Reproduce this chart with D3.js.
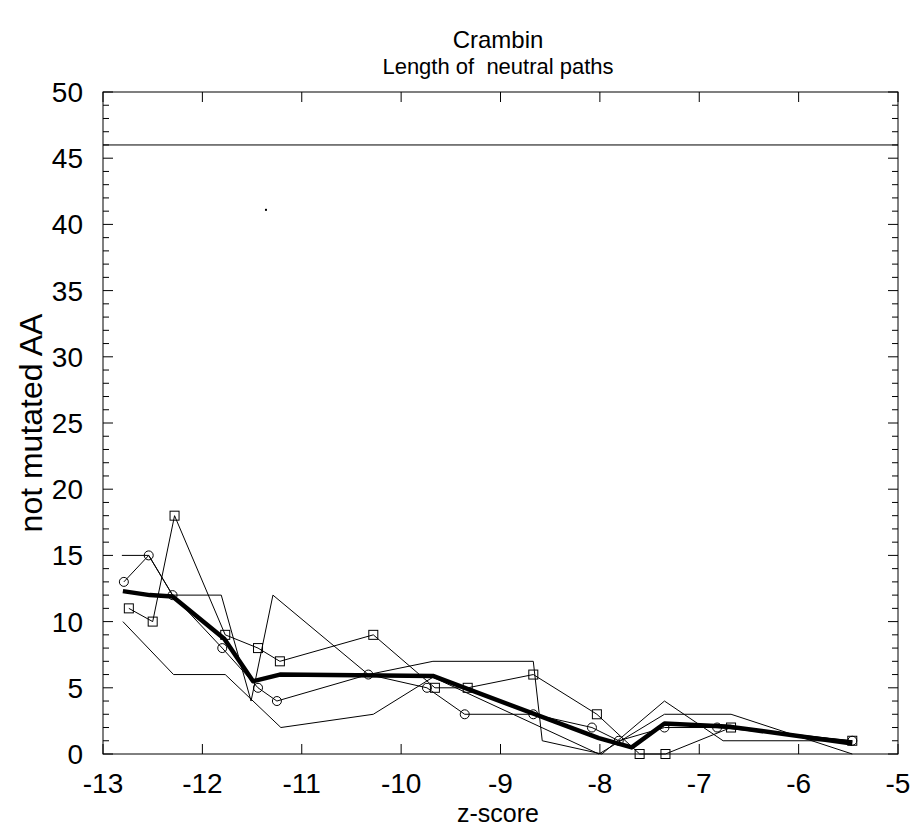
<!DOCTYPE html>
<html>
<head>
<meta charset="utf-8">
<script src="https://cdn.jsdelivr.net/npm/d3@7"></script>
<style>
  body { margin: 0; background: #fff; }
  text { font-family: "Liberation Sans", Arial, Helvetica, sans-serif; fill: #000; white-space: pre; }
</style>
</head>
<body>
<div id="chart"></div>
<script>
// values
var xTicks = [-13, -12, -11, -10, -9, -8, -7, -6, -5];
var yTicks = [0, 5, 10, 15, 20, 25, 30, 35, 40, 45, 50];
var yMinorTicks = d3.range(0, 51, 1);

var refLevel = 46;   // horizontal reference line

// run with circles
var circleX = [-12.79, -12.54, -12.30, -11.80, -11.44, -11.25, -10.33, -9.74, -9.36, -8.67, -8.08, -7.81, -7.35, -6.82, -5.46];
var circleY = [13, 15, 12, 8, 5, 4, 6, 5, 3, 3, 2, 1, 2, 2, 1];

// run with squares
var squareX = [-12.74, -12.50, -12.28, -11.77, -11.44, -11.22, -10.28, -9.66, -9.33, -8.67, -8.03, -7.60, -7.34, -6.68, -5.46];
var squareY = [11, 10, 18, 9, 8, 7, 9, 5, 5, 6, 3, 0, 0, 2, 1];

// plain runs
var plainAX = [-12.81, -12.54, -12.30, -11.81, -11.51, -11.29, -10.33, -9.68, -8.67, -8.58, -7.98, -7.35, -6.76, -5.46];
var plainAY = [15, 15, 12, 12, 4, 12, 6, 7, 7, 1, 0, 4, 1, 1];
var plainBX = [-12.80, -12.29, -11.77, -11.21, -10.28, -9.68, -8.01, -7.35, -6.68, -5.46];
var plainBY = [10, 6, 6, 2, 3, 5.8, 0, 3, 3, 0];

// mean (thick line)
var meanX = [-12.80, -12.53, -12.30, -11.78, -11.49, -11.22, -9.68, -8.01, -7.68, -7.35, -6.68, -5.46];
var meanY = [12.3, 12, 11.9, 8.7, 5.5, 6, 5.9, 1.2, 0.5, 2.3, 2.05, 0.8];

// stray dot in the plot
var dotX = [-11.36];
var dotY = [41.1];

function zip(xs, ys) { return xs.map(function(d, i) { return [d, ys[i]]; }); }

// set the dimensions and margins of the graph
var margin = {top: 92, right: 19, bottom: 76, left: 103},
    width = 917 - margin.left - margin.right,
    height = 830 - margin.top - margin.bottom;

var svg = d3.select("#chart")
    .append("svg")
    .attr("width", 917)
    .attr("height", 830);

var g = svg.append("g")
    .attr("transform", "translate(" + margin.left + "," + margin.top + ")");

var x = d3.scaleLinear().domain([-13, -5]).range([0, width]);
var y = d3.scaleLinear().domain([0, 50]).range([height, 0]);

// titles
svg.append("text").attr("x", 498).attr("y", 48).attr("text-anchor", "middle")
    .style("font-size", "24px").text("Crambin");
svg.append("text").attr("x", 498).attr("y", 74).attr("text-anchor", "middle")
    .style("font-size", "22px").text("Length of  neutral paths");

// ticks, drawn inward on all four sides
var tk = g.append("g").attr("stroke", "#000").attr("stroke-width", 1);
xTicks.forEach(function(t) {
    tk.append("line").attr("x1", x(t)).attr("x2", x(t)).attr("y1", height).attr("y2", height - 10);
    tk.append("line").attr("x1", x(t)).attr("x2", x(t)).attr("y1", 0).attr("y2", 10);
});
yMinorTicks.forEach(function(t) {
    var len = (t % 5 === 0) ? 10 : 6;
    tk.append("line").attr("x1", 0).attr("x2", len).attr("y1", y(t)).attr("y2", y(t));
    tk.append("line").attr("x1", width).attr("x2", width - len).attr("y1", y(t)).attr("y2", y(t));
});

// tick labels
g.selectAll(".xl").data(xTicks).enter().append("text")
    .attr("x", function(d) { return x(d); })
    .attr("y", height + 39)
    .attr("text-anchor", "middle")
    .style("font-size", "28px")
    .text(function(d) { return d; });
g.selectAll(".yl").data(yTicks).enter().append("text")
    .attr("x", -20)
    .attr("y", function(d) { return y(d) + 10; })
    .attr("text-anchor", "end")
    .style("font-size", "28px")
    .text(function(d) { return d; });

// axis titles
svg.append("text").attr("x", 498).attr("y", 822).attr("text-anchor", "middle")
    .style("font-size", "25px").text("z-score");
svg.append("text")
    .attr("transform", "translate(42," + (margin.top + height / 2) + ") rotate(-90)")
    .attr("text-anchor", "middle")
    .style("font-size", "32px").text("not mutated AA");

// frame
g.append("rect").attr("width", width).attr("height", height)
    .attr("fill", "none").attr("stroke", "#000").attr("stroke-width", 1);

// reference line
g.append("line").attr("x1", 0).attr("x2", width)
    .attr("y1", y(refLevel)).attr("y2", y(refLevel))
    .attr("stroke", "#000").attr("stroke-width", 1);

var line = d3.line().x(function(d) { return x(d[0]); }).y(function(d) { return y(d[1]); });

[zip(plainAX, plainAY), zip(plainBX, plainBY), zip(circleX, circleY), zip(squareX, squareY)].forEach(function(s) {
    g.append("path").datum(s).attr("d", line)
        .attr("fill", "none").attr("stroke", "#000").attr("stroke-width", 1);
});

g.append("path").datum(zip(meanX, meanY)).attr("d", line)
    .attr("fill", "none").attr("stroke", "#000").attr("stroke-width", 4.5)
    .attr("stroke-linejoin", "round");

// markers
g.selectAll(".circ").data(zip(circleX, circleY)).enter().append("circle")
    .attr("cx", function(d) { return x(d[0]); })
    .attr("cy", function(d) { return y(d[1]); })
    .attr("r", 4.5)
    .attr("fill", "none").attr("stroke", "#000");
g.selectAll(".sq").data(zip(squareX, squareY)).enter().append("rect")
    .attr("x", function(d) { return x(d[0]) - 4.5; })
    .attr("y", function(d) { return y(d[1]) - 4.5; })
    .attr("width", 9).attr("height", 9)
    .attr("fill", "none").attr("stroke", "#000");

g.selectAll(".dot").data(zip(dotX, dotY)).enter().append("rect")
    .attr("x", function(d) { return x(d[0]) - 1; })
    .attr("y", function(d) { return y(d[1]) - 1; })
    .attr("width", 2).attr("height", 2).attr("fill", "#000");
</script>
</body>
</html>
